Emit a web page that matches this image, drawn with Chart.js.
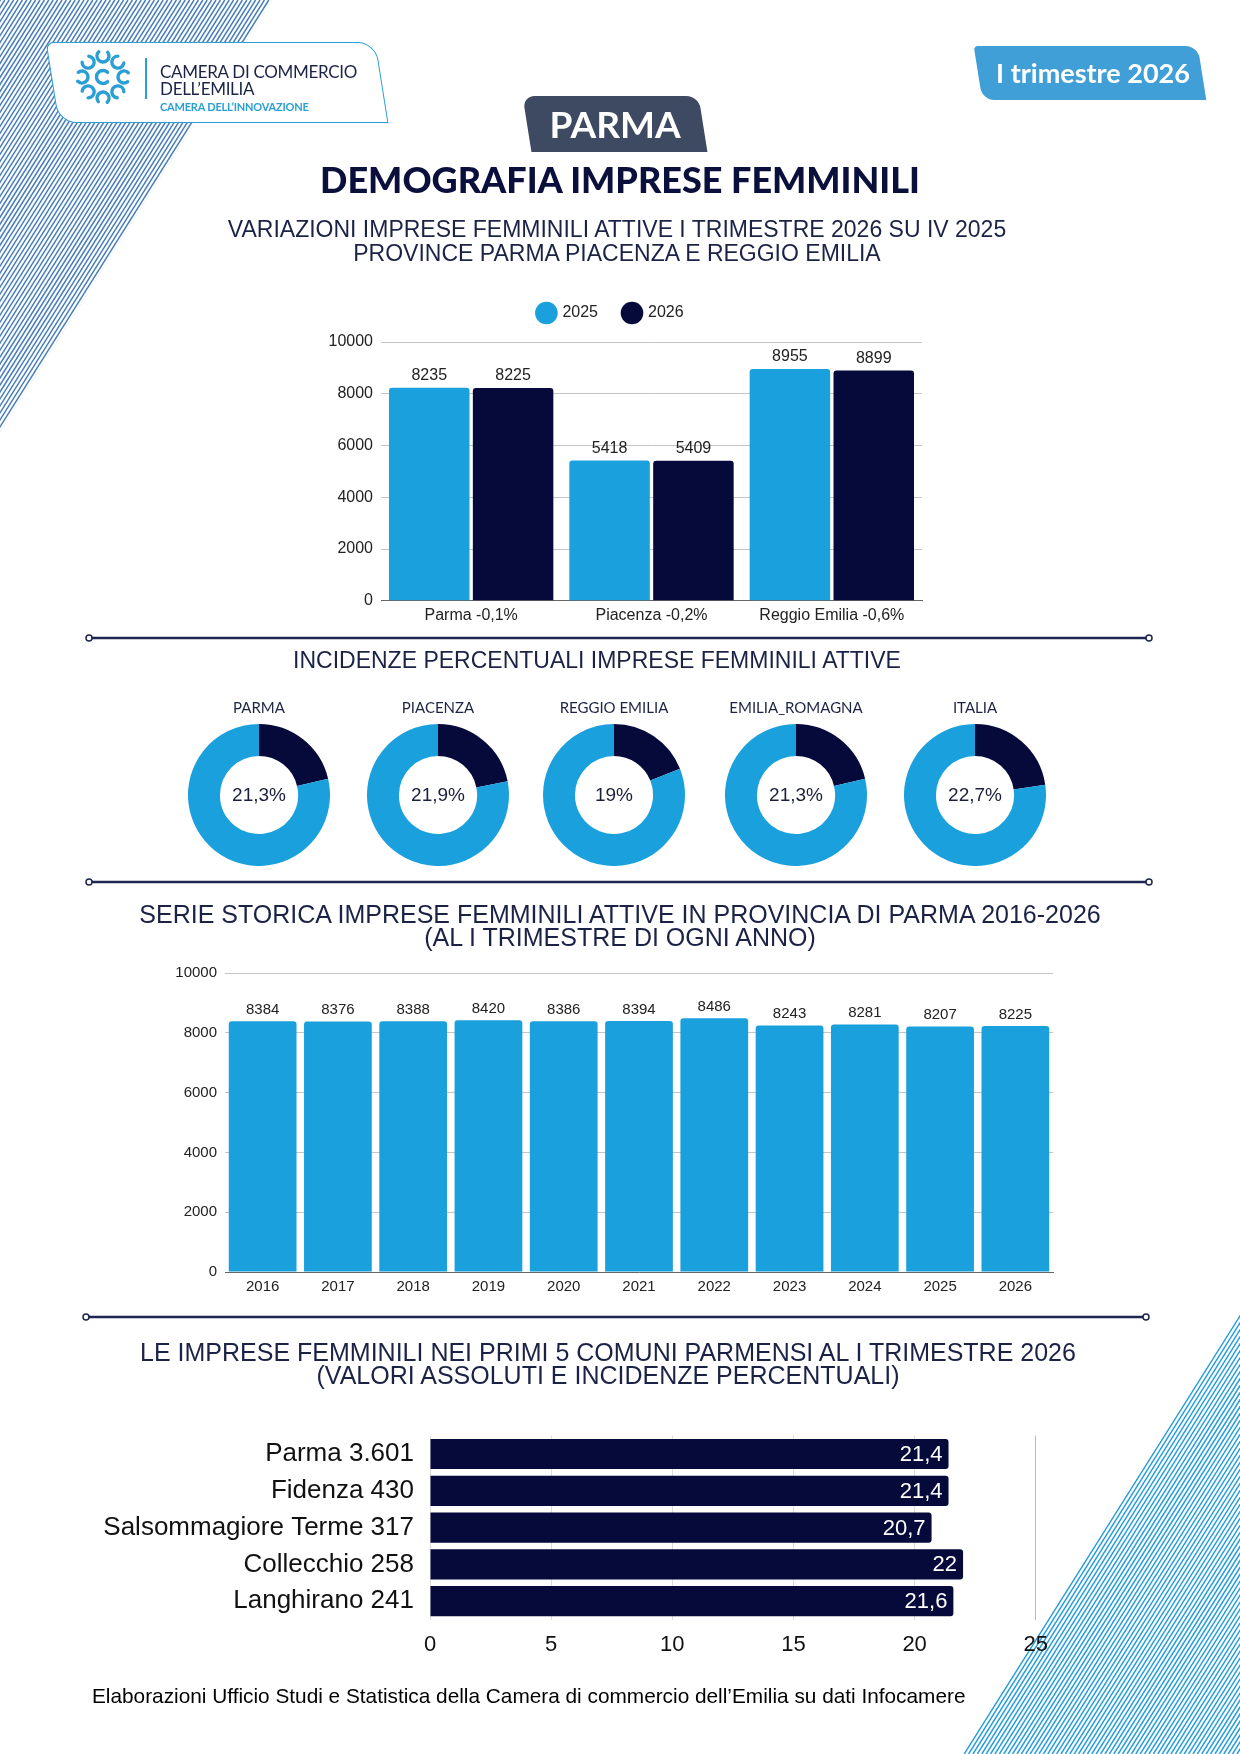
<!DOCTYPE html>
<html>
<head>
<meta charset="utf-8">
<script src="https://cdn.jsdelivr.net/npm/chart.js@4.4.1/dist/chart.umd.min.js"></script>
<style>
html, body { margin: 0; padding: 0; background: #fff; }
#page { position: relative; width: 1240px; height: 1754px; overflow: hidden; font-family: "Liberation Sans", Arial, sans-serif; }
#bg { position: absolute; left: 0; top: 0; }
.t { position: absolute; white-space: nowrap; line-height: 1; }
.box { position: absolute; }
.lato { font-family: Lato, "Open Sans", sans-serif; }
.sec { color: #1b2246; font-size: 23px; text-align: center; width: 1000px; }
.ttl { color: #1d2345; font-size: 15px; text-align: center; width: 200px; }
</style>
</head>
<body>
<div id="page">
  <canvas id="bg" width="1240" height="1754"></canvas>

  <!-- logo -->
  <div class="box" style="left:52px;top:42px;width:328px;height:79px;border:1.5px solid #2a9fd6;background:#fff;border-radius:8px 18px 0 18px;transform:skewX(9deg);"></div>
  <canvas id="logo" class="box" width="64" height="64" style="left:71px;top:45px;"></canvas>
  <div class="box" style="left:145px;top:58px;width:2px;height:41px;background:#2a9fd6;"></div>
  <div class="t lato" style="left:160px;top:63px;font-size:17px;color:#1d2345;letter-spacing:-0.3px;">CAMERA DI COMMERCIO</div>
  <div class="t lato" style="left:160px;top:80px;font-size:17px;color:#1d2345;letter-spacing:-0.3px;">DELL’EMILIA</div>
  <div class="t lato" style="left:160px;top:101px;font-size:11px;color:#2a9fd6;font-weight:bold;letter-spacing:-0.2px;">CAMERA DELL’INNOVAZIONE</div>

  <!-- period tag -->
  <div class="box" style="left:978px;top:46px;width:224px;height:54px;background:#3f9fd6;border-radius:4px 12px 0 12px;transform:skewX(9deg);"></div>
  <div class="t lato" style="left:978px;top:59px;width:230px;text-align:center;font-size:27px;font-weight:bold;color:#fff;">I trimestre 2026</div>

  <!-- province tag -->
  <div class="box" style="left:527px;top:96px;width:176px;height:56px;background:#3e4a62;border-radius:12px 12px 0 0;transform:skewX(9deg);"></div>
  <div class="t lato" style="left:515px;top:105px;width:200px;text-align:center;font-size:37px;font-weight:bold;color:#fff;">PARMA</div>

  <div class="t lato" style="left:120px;top:161px;width:1000px;text-align:center;font-size:36px;font-weight:900;color:#0a0f3c;">DEMOGRAFIA IMPRESE FEMMINILI</div>

  <div class="t sec" style="left:117px;top:218px;">VARIAZIONI IMPRESE FEMMINILI ATTIVE I TRIMESTRE 2026 SU IV 2025</div>
  <div class="t sec" style="left:117px;top:242px;">PROVINCE PARMA PIACENZA E REGGIO EMILIA</div>
  <div class="box" style="left:300px;top:275px;width:640px;height:359px;"><canvas id="c1"></canvas></div>

  <div class="t sec" style="left:97px;top:649px;">INCIDENZE PERCENTUALI IMPRESE FEMMINILI ATTIVE</div>
  <div id="donuts"></div>

  <div class="t sec" style="left:120px;top:902px;font-size:25px;">SERIE STORICA IMPRESE FEMMINILI ATTIVE IN PROVINCIA DI PARMA 2016-2026</div>
  <div class="t sec" style="left:120px;top:925px;font-size:25px;">(AL I TRIMESTRE DI OGNI ANNO)</div>
  <div class="box" style="left:150px;top:956px;width:920px;height:350px;"><canvas id="c3"></canvas></div>

  <div class="t sec" style="left:108px;top:1340px;font-size:25px;">LE IMPRESE FEMMINILI NEI PRIMI 5 COMUNI PARMENSI AL I TRIMESTRE 2026</div>
  <div class="t sec" style="left:108px;top:1363px;font-size:25px;">(VALORI ASSOLUTI E INCIDENZE PERCENTUALI)</div>
  <div class="box" style="left:60px;top:1404px;width:1000px;height:266px;"><canvas id="c4"></canvas></div>

  <div class="t" style="left:92px;top:1686px;font-size:20.8px;color:#000;">Elaborazioni Ufficio Studi e Statistica della Camera di commercio dell’Emilia su dati Infocamere</div>
</div>

<script>
// colours
const LIGHT = '#1aa0dc';
const NAVY = '#050a3a';

// chart 1 - variazioni province
const provLabels = ['Parma -0,1%', 'Piacenza -0,2%', 'Reggio Emilia -0,6%'];
const prov2025 = [8235, 5418, 8955];
const prov2026 = [8225, 5409, 8899];

// donuts - incidenze %
const incNames = ['PARMA', 'PIACENZA', 'REGGIO EMILIA', 'EMILIA_ROMAGNA', 'ITALIA'];
const incValues = [21.3, 21.9, 19, 21.3, 22.7];

// chart 3 - serie storica
const years = ['2016', '2017', '2018', '2019', '2020', '2021', '2022', '2023', '2024', '2025', '2026'];
const yearValues = [8384, 8376, 8388, 8420, 8386, 8394, 8486, 8243, 8281, 8207, 8225];

// chart 4 - primi 5 comuni
const comuni = ['Parma', 'Fidenza', 'Salsommagiore Terme', 'Collecchio', 'Langhirano'];
const comuniImprese = ['3.601', '430', '317', '258', '241'];
const comuniIncidenza = [21.4, 21.4, 20.7, 22, 21.6];

const comma = v => String(v).replace('.', ',');

// page decorations: stripes, separators, logo mark
(function drawBackground() {
    const ctx = document.getElementById('bg').getContext('2d');

    const stripes = (poly, color, slope) => {
        ctx.save();
        ctx.beginPath();
        poly.forEach((p, i) => i ? ctx.lineTo(p[0], p[1]) : ctx.moveTo(p[0], p[1]));
        ctx.closePath();
        ctx.clip();
        ctx.strokeStyle = color;
        ctx.lineWidth = 1.5;
        for (let x = -1500; x < 3000; x += 4.4) {
            ctx.beginPath();
            ctx.moveTo(x, 0);
            ctx.lineTo(x + slope * 1754, 1754);
            ctx.stroke();
        }
        ctx.restore();
    };
    stripes([[0, 0], [272, 0], [0, 432]], '#4a7fb8', -272 / 432);
    stripes([[1240, 1314], [1240, 1754], [963, 1754]], '#2b9fd8', -277 / 440);

    const sep = (y, x0, x1) => {
        ctx.save();
        ctx.strokeStyle = '#1d2550';
        ctx.lineWidth = 2.5;
        ctx.beginPath();
        ctx.moveTo(x0 + 3, y);
        ctx.lineTo(x1 - 3, y);
        ctx.stroke();
        ctx.lineWidth = 1.5;
        ctx.fillStyle = '#fff';
        [x0, x1].forEach(x => {
            ctx.beginPath();
            ctx.arc(x, y, 3, 0, Math.PI * 2);
            ctx.fill();
            ctx.stroke();
        });
        ctx.restore();
    };
    sep(638, 89, 1149);
    sep(882, 89, 1149);
    sep(1317, 86, 1146);

    // logo mark: ring of small "c" swirls
    const l = document.getElementById('logo').getContext('2d');
    l.strokeStyle = '#2a9fd6';
    l.lineWidth = 3.4;
    l.lineCap = 'round';
    for (let k = 0; k < 8; k++) {
        const a = k * Math.PI / 4;
        const cx = 32 + 21 * Math.cos(a), cy = 32 + 21 * Math.sin(a);
        l.beginPath();
        l.arc(cx, cy, 6, a + 0.9, a + 0.9 + 4.6);
        l.stroke();
    }
    l.beginPath();
    l.arc(32, 32, 6.5, 0.8, Math.PI * 2 - 0.8);
    l.stroke();
})();

Chart.defaults.font.family = '"Liberation Sans", Arial, sans-serif';
Chart.defaults.color = '#222';
Chart.defaults.animation = false;

// value labels for bars (above the bar, or inside its end)
const valueLabels = {
    id: 'valueLabels',
    afterDatasetsDraw(chart, args, opts) {
        const {ctx} = chart;
        ctx.save();
        ctx.font = `${opts.size}px "Liberation Sans", Arial, sans-serif`;
        ctx.fillStyle = opts.color;
        chart.data.datasets.forEach((ds, di) => {
            chart.getDatasetMeta(di).data.forEach((bar, i) => {
                const txt = opts.comma ? comma(ds.data[i]) : String(ds.data[i]);
                if (opts.inside) {
                    ctx.textAlign = 'right';
                    ctx.textBaseline = 'middle';
                    ctx.fillText(txt, bar.x - 6, bar.y + 1);
                } else {
                    ctx.textAlign = 'center';
                    ctx.textBaseline = 'bottom';
                    ctx.fillText(txt, bar.x, bar.y - 4);
                }
            });
        });
        ctx.restore();
    }
};

// a bit more room under the legend
const legendGap = {
    id: 'legendGap',
    beforeInit(chart) {
        const fit = chart.legend.fit;
        chart.legend.fit = function () {
            fit.bind(chart.legend)();
            this.height += 11;
        };
    }
};

// chart 1
new Chart(document.getElementById('c1'), {
    type: 'bar',
    data: {
        labels: provLabels,
        datasets: [
            {label: '2025', data: prov2025, backgroundColor: LIGHT, borderRadius: 3, borderSkipped: 'bottom', categoryPercentage: 0.93, barPercentage: 0.96},
            {label: '2026', data: prov2026, backgroundColor: NAVY, borderRadius: 3, borderSkipped: 'bottom', categoryPercentage: 0.93, barPercentage: 0.96}
        ]
    },
    options: {
        responsive: true,
        maintainAspectRatio: false,
        layout: {padding: {left: 0, right: 18, top: 4, bottom: 4}},
        scales: {
            y: {
                min: 0, max: 10000,
                ticks: {stepSize: 2000, font: {size: 16}, color: '#222', padding: 8, format: {useGrouping: false}},
                grid: {color: '#c4c4c8', drawTicks: false},
                border: {display: false},
                afterFit: axis => { axis.width = 81; }
            },
            x: {
                ticks: {font: {size: 16}, color: '#222', padding: 5},
                grid: {display: false, drawTicks: false},
                border: {color: '#666'}
            }
        },
        plugins: {
            legend: {
                position: 'top',
                labels: {usePointStyle: true, pointStyle: 'circle', boxWidth: 18, boxHeight: 18, padding: 26, font: {size: 16}, color: '#222'}
            },
            tooltip: {enabled: false},
            valueLabels: {size: 16, color: '#222', comma: false, inside: false}
        }
    },
    plugins: [valueLabels, legendGap]
});

// donuts
const centerText = {
    id: 'centerText',
    afterDraw(chart) {
        const {ctx, chartArea: {left, right, top, bottom}} = chart;
        ctx.save();
        ctx.font = '19px "Liberation Sans", Arial, sans-serif';
        ctx.fillStyle = '#1b1f3a';
        ctx.textAlign = 'center';
        ctx.textBaseline = 'middle';
        ctx.fillText(comma(chart.data.datasets[0].data[0]) + '%', (left + right) / 2, (top + bottom) / 2 + 1);
        ctx.restore();
    }
};
const donutX = [259, 438, 614, 796, 975];
const donutWrap = document.getElementById('donuts');
incNames.forEach((name, i) => {
    const title = document.createElement('div');
    title.className = 't ttl lato';
    title.style.left = (donutX[i] - 100) + 'px';
    title.style.top = '700px';
    title.textContent = name;
    donutWrap.appendChild(title);

    const box = document.createElement('div');
    box.className = 'box';
    box.style.left = (donutX[i] - 71) + 'px';
    box.style.top = '724px';
    box.style.width = '142px';
    box.style.height = '142px';
    const cv = document.createElement('canvas');
    box.appendChild(cv);
    donutWrap.appendChild(box);

    new Chart(cv, {
        type: 'doughnut',
        data: {
            labels: ['Femminili', 'Altre'],
            datasets: [{data: [incValues[i], 100 - incValues[i]], backgroundColor: [NAVY, LIGHT], borderWidth: 0}]
        },
        options: {
            responsive: true,
            maintainAspectRatio: false,
            cutout: '55%',
            plugins: {legend: {display: false}, tooltip: {enabled: false}}
        },
        plugins: [centerText]
    });
});

// chart 3
new Chart(document.getElementById('c3'), {
    type: 'bar',
    data: {
        labels: years,
        datasets: [{label: 'Imprese femminili', data: yearValues, backgroundColor: LIGHT, borderRadius: 3, borderSkipped: 'bottom', categoryPercentage: 0.9, barPercentage: 1}]
    },
    options: {
        responsive: true,
        maintainAspectRatio: false,
        layout: {padding: {left: 0, right: 17, top: 10, bottom: 4}},
        scales: {
            y: {
                min: 0, max: 10000,
                ticks: {stepSize: 2000, font: {size: 15}, color: '#222', padding: 8, format: {useGrouping: false}},
                grid: {color: '#c4c4c8', drawTicks: false},
                border: {display: false},
                afterFit: axis => { axis.width = 75; }
            },
            x: {
                ticks: {font: {size: 15}, color: '#222', padding: 6},
                grid: {display: false, drawTicks: false},
                border: {color: '#666'}
            }
        },
        plugins: {
            legend: {display: false},
            tooltip: {enabled: false},
            valueLabels: {size: 15, color: '#222', comma: false, inside: false}
        }
    },
    plugins: [valueLabels]
});

// chart 4
new Chart(document.getElementById('c4'), {
    type: 'bar',
    data: {
        labels: comuni.map((c, i) => c + ' ' + comuniImprese[i]),
        datasets: [{label: 'Incidenza %', data: comuniIncidenza, backgroundColor: NAVY, borderRadius: 3, borderSkipped: 'start', categoryPercentage: 0.82, barPercentage: 1}]
    },
    options: {
        indexAxis: 'y',
        responsive: true,
        maintainAspectRatio: false,
        layout: {padding: {left: 0, right: 5, top: 0, bottom: 0}},
        scales: {
            x: {
                min: 0, max: 25,
                ticks: {stepSize: 5, font: {size: 22}, color: '#111', padding: 12},
                grid: {color: ctx => ctx.tick && ctx.tick.value === 25 ? '#b8b8b8' : '#dcdcdc', drawTicks: false},
                border: {display: false}
            },
            y: {
                ticks: {font: {size: 26}, color: '#111', padding: 16, autoSkip: false},
                grid: {display: false, drawTicks: false},
                border: {display: false},
                afterFit: axis => { axis.width = 370; }
            }
        },
        plugins: {
            legend: {display: false},
            tooltip: {enabled: false},
            valueLabels: {size: 22, color: '#fff', comma: true, inside: true}
        }
    },
    plugins: [valueLabels]
});
</script>
</body>
</html>
